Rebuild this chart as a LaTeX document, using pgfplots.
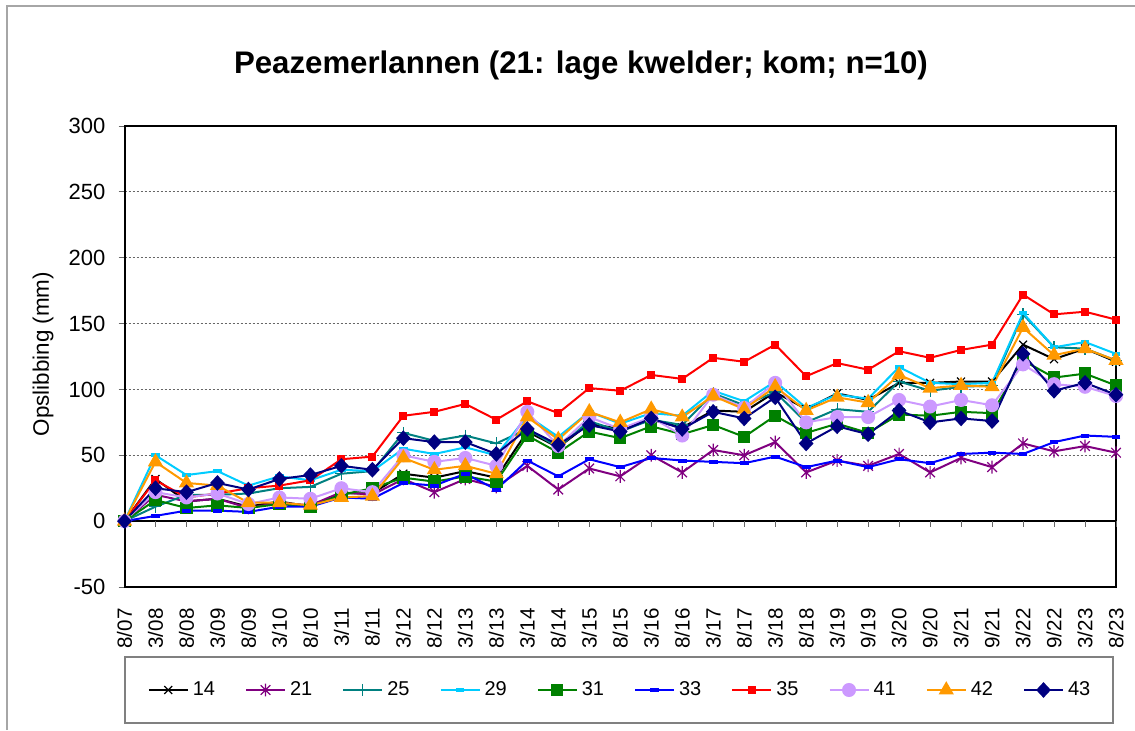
\documentclass[border=0pt]{standalone}
\usepackage{fontspec}
\setmainfont{Liberation Sans}
\usepackage{pgfplots}
\usepackage{pgfplotstable}
\pgfplotsset{compat=1.18}
\definecolor{c14}{HTML}{000000}
\definecolor{c21}{HTML}{800080}
\definecolor{c25}{HTML}{008080}
\definecolor{c29}{HTML}{00CCFF}
\definecolor{c31}{HTML}{008000}
\definecolor{c33}{HTML}{0000FF}
\definecolor{c35}{HTML}{FF0000}
\definecolor{c41}{HTML}{CC99FF}
\definecolor{c42}{HTML}{FF9900}
\definecolor{c43}{HTML}{000080}
\pgfdeclareplotmark{xstar}{%
  \pgfpathmoveto{\pgfqpoint{0pt}{\pgfplotmarksize}}%
  \pgfpathlineto{\pgfqpoint{0pt}{-\pgfplotmarksize}}%
  \pgfpathmoveto{\pgfqpoint{-0.75\pgfplotmarksize}{-0.75\pgfplotmarksize}}%
  \pgfpathlineto{\pgfqpoint{0.75\pgfplotmarksize}{0.75\pgfplotmarksize}}%
  \pgfpathmoveto{\pgfqpoint{-0.75\pgfplotmarksize}{0.75\pgfplotmarksize}}%
  \pgfpathlineto{\pgfqpoint{0.75\pgfplotmarksize}{-0.75\pgfplotmarksize}}%
  \pgfusepathqstroke}
\pgfplotstableread{
i s14 s21 s25 s29 s31 s33 s35 s41 s42 s43
0 0 0 0 0 0 0 0 0 0 0
1 32 20 11 50 16 4 31 22 45 25
2 15 15 20 35 10 8 18 18 29 22
3 17 17 20 38 12 8 21 21 27 29
4 11 10 21 27 10 7 25 13 14 24
5 15 14 25 34 13 11 27 18 14 32
6 11 12 26 31 11 11 31 17 12 35
7 21 22 36 39 20 18 47 25 18 42
8 21 20 38 38 25 17 49 22 19 39
9 36 32 67 55 33 29 80 50 48 63
10 33 22 61 51 30 27 83 45 39 60
11 38 32 65 56 34 36 89 48 42 60
12 33 26 59 50 30 24 77 42 36 51
13 68 42 70 80 65 46 91 83 79 70
14 56 24 56 64 52 34 82 57 62 58
15 74 40 76 83 68 47 101 79 83 73
16 70 34 68 74 63 41 99 70 75 68
17 77 50 77 82 72 48 111 79 85 78
18 71 37 73 80 66 46 108 65 79 70
19 84 54 97 99 73 45 124 96 95 83
20 83 50 88 91 64 44 121 86 85 78
21 98 60 98 106 80 49 134 105 102 94
22 85 37 75 86 67 41 110 75 84 59
23 97 46 85 96 74 46 120 79 94 72
24 92 42 83 93 67 41 115 79 90 66
25 105 51 106 117 81 47 129 92 111 84
26 105 37 99 105 80 44 124 87 101 75
27 106 48 102 104 83 51 130 92 103 78
28 106 41 103 105 82 52 134 88 102 76
29 134 59 157 158 122 51 172 119 147 127
30 123 53 132 132 109 60 157 104 126 99
31 131 57 131 136 112 65 159 102 131 105
32 121 52 122 127 103 64 153 95 122 96
}\data
\begin{document}
\begin{tikzpicture}
\useasboundingbox (0,0) rectangle (567.5pt,365pt);
\draw[gray!70, line width=0.6pt] (3.5pt,0) -- (3.5pt,362pt) -- (567.5pt,362pt);
\node[font=\bfseries\fontsize{15.6}{18}\selectfont, anchor=base] at (290.5pt,328pt) {Peazemerlannen (21: lage kwelder; kom; n=10)};
\node[rotate=90, font=\fontsize{11.2}{13}\selectfont] at (21.5pt,188pt) {Opslibbing (mm)};
\draw[gray, line width=0.6pt] (62.5pt,3.5pt) rectangle (556.5pt,36.5pt);
\begin{axis}[
  at={(62.25pt,71.5pt)}, anchor=south west,
  width=495.75pt, height=230.5pt, scale only axis,
  xmin=0, xmax=32, ymin=-50, ymax=300,
  clip=false,
  ytick={-50,0,50,100,150,200,250,300},
  xtick={0,...,32},
  xticklabels={8/07,3/08,8/08,3/09,8/09,3/10,8/10,3/11,8/11,3/12,8/12,3/13,8/13,3/14,8/14,3/15,8/15,3/16,8/16,3/17,8/17,3/18,8/18,3/19,9/19,3/20,9/20,3/21,9/21,3/22,9/22,3/23,8/23},
  xtick style={draw=none},
  ytick style={black!60, line width=0.5pt},
  tick align=outside,
  major tick length=3pt,
  xtick pos=bottom, ytick pos=left,
  /pgf/number format/assume math mode=true,
  xticklabel shift=7.5pt,
  xticklabel style={font=\fontsize{10.3}{12}\selectfont, rotate=90, anchor=east, inner sep=0pt},
  yticklabel style={font=\fontsize{11}{13}\selectfont, xshift=-3pt},
  ymajorgrids,
  major grid style={black!60, dash pattern=on 1pt off 1pt, line width=0.4pt},
  axis line style={black, line width=1pt},
  every axis plot/.append style={line width=1pt},
  legend columns=10,
  legend style={at={(0.5008,-0.2234)}, anchor=center, draw=none, fill=none,
    font=\fontsize{10}{12}\selectfont,
    /tikz/every even column/.append style={column sep=13pt}},
  legend image code/.code={%
    \draw[mark repeat=2,mark phase=2,#1] plot coordinates {(0pt,0pt) (9.75pt,0pt) (19.5pt,0pt)};},
]
\addplot[black, line width=0.8pt, forget plot] coordinates {(0,0) (32,0)};
\addplot[ycomb, black!60, line width=0.5pt, forget plot, mark=none] coordinates {
(1,-4.3) (2,-4.3) (3,-4.3) (4,-4.3) (5,-4.3) (6,-4.3) (7,-4.3) (8,-4.3)
(9,-4.3) (10,-4.3) (11,-4.3) (12,-4.3) (13,-4.3) (14,-4.3) (15,-4.3) (16,-4.3)
(17,-4.3) (18,-4.3) (19,-4.3) (20,-4.3) (21,-4.3) (22,-4.3) (23,-4.3) (24,-4.3)
(25,-4.3) (26,-4.3) (27,-4.3) (28,-4.3) (29,-4.3) (30,-4.3) (31,-4.3) (32,-4.3)};
\addplot[c14, mark=x, mark size=2.8pt, mark options={line width=0.6pt}] table[x=i,y=s14] {\data};
\addlegendentry{14}
\addplot[c21, mark=xstar, mark size=3.2pt, mark options={line width=0.6pt}] table[x=i,y=s21] {\data};
\addlegendentry{21}
\addplot[c25, mark=+, mark size=3pt, mark options={line width=0.6pt}] table[x=i,y=s25] {\data};
\addlegendentry{25}
\addplot[c29, mark=-, mark size=2.2pt, mark options={line width=2pt}] table[x=i,y=s29] {\data};
\addlegendentry{29}
\addplot[c31, mark=square*, mark size=2.6pt] table[x=i,y=s31] {\data};
\addlegendentry{31}
\addplot[c33, mark=-, mark size=2.2pt, mark options={line width=2pt}] table[x=i,y=s33] {\data};
\addlegendentry{33}
\addplot[c35, mark=square*, mark size=1.5pt] table[x=i,y=s35] {\data};
\addlegendentry{35}
\addplot[c41, mark=*, mark size=3pt] table[x=i,y=s41] {\data};
\addlegendentry{41}
\addplot[c42, mark=triangle*, mark size=3.4pt] table[x=i,y=s42] {\data};
\addlegendentry{42}
\addplot[c43, mark=diamond*, mark size=3.2pt, mark options={xscale=1.25}] table[x=i,y=s43] {\data};
\addlegendentry{43}
\end{axis}
\end{tikzpicture}
\end{document}
